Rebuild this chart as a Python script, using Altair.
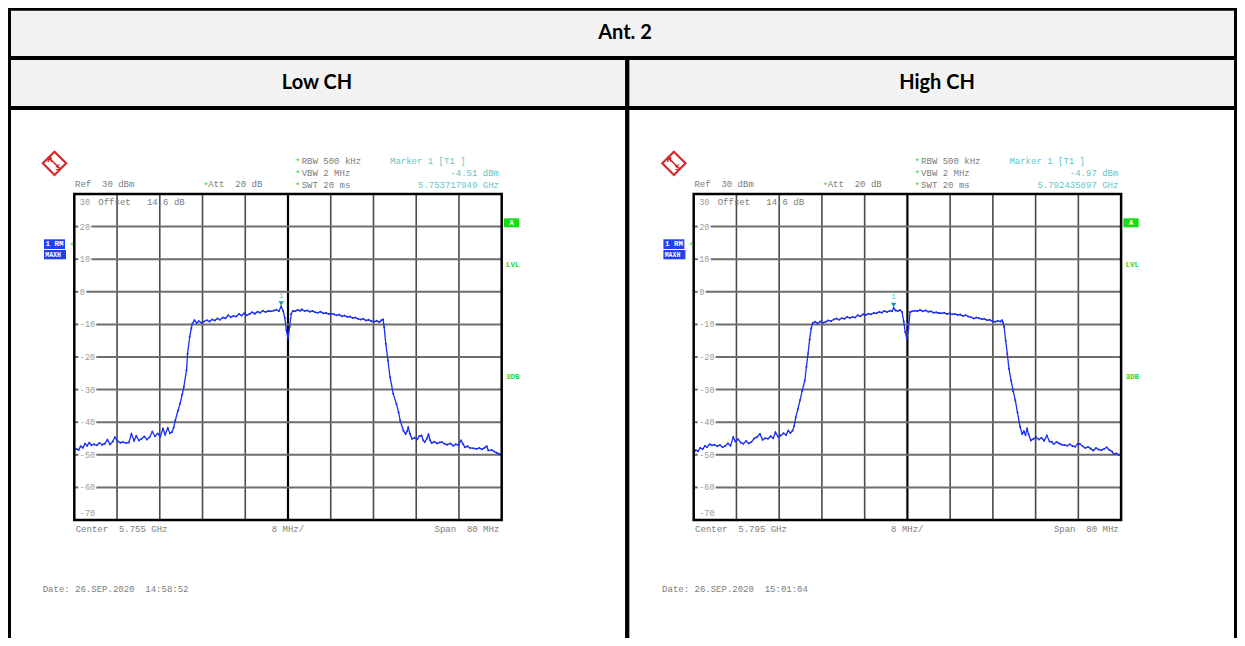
import altair as alt
import pandas as pd

# ---------------- data ----------------
table_title = "Ant. 2"
panel_titles = ["Low CH", "High CH"]
center_mhz = [5755.0, 5795.0]
span_mhz = 80.0
div_mhz = 8.0
ref_level_dbm = 30.0
bottom_level_dbm = -70.0
y_tick_values = [30, 20, 10, 0, -10, -20, -30, -40, -50, -60, -70]
marker_freq_ghz = [5.753717949, 5.792435897]
marker_level_dbm = [-4.51, -4.97]
marker_level_labels = ["-4.51 dBm", "-4.97 dBm"]
marker_freq_labels = ["5.753717949 GHz", "5.792435897 GHz"]
center_labels = ["Center  5.755 GHz", "Center  5.795 GHz"]
date_labels = ["Date: 26.SEP.2020  14:58:52", "Date: 26.SEP.2020  15:01:04"]

low_offset_mhz = [
    -40.0, -39.6, -39.2, -38.8, -38.4, -38.0, -37.6, -37.2, -36.8, -36.3,
    -35.8, -35.3, -34.8, -34.3, -33.8, -33.3, -32.8, -32.4, -31.9, -31.4,
    -30.9, -30.3, -29.8, -29.3, -28.8, -28.4, -27.9, -27.4, -26.9, -26.4,
    -25.9, -25.4, -24.9, -24.4, -23.9, -23.4, -23.0, -22.5, -22.1, -21.7,
    -21.4, -21.1, -20.6, -20.2, -19.8, -19.5, -19.0, -18.8, -18.4, -18.1,
    -17.9, -17.5, -17.1, -16.7, -16.2, -15.7, -15.2, -14.7, -14.2, -13.7,
    -13.2, -12.7, -12.2, -11.7, -11.2, -10.7, -10.2, -9.7, -9.2, -8.7,
    -8.2, -7.7, -7.2, -6.7, -6.2, -5.7, -5.2, -4.7, -4.2, -3.7,
    -3.2, -2.7, -2.2, -1.7, -1.28, -0.9, -0.6, -0.3, 0.0, 0.3,
    0.6, 0.9, 1.3, 1.8, 2.3, 2.6, 3.1, 3.6, 4.1, 4.6,
    5.1, 5.6, 6.1, 6.6, 7.1, 7.6, 8.1, 8.6, 9.1, 9.6,
    10.1, 10.6, 11.1, 11.6, 12.1, 12.6, 13.1, 13.6, 14.1, 14.6,
    15.1, 15.6, 16.1, 16.6, 17.1, 17.5, 17.8, 18.0, 18.3, 18.7,
    19.1, 19.7, 20.3, 20.7, 21.0, 21.6, 22.0, 22.3, 22.5, 22.8,
    23.2, 23.7, 24.2, 24.6, 25.0, 25.3, 25.6, 26.0, 26.3, 26.6,
    26.9, 27.4, 27.9, 28.4, 28.8, 29.3, 29.8, 30.4, 30.9, 31.4,
    31.9, 32.4, 32.8, 33.1, 33.6, 34.1, 34.7, 35.3, 35.8, 36.3,
    36.8, 37.2, 37.5, 38.1, 38.6, 39.1, 39.6, 40.0]
low_level_dbm = [
    -48.8, -48.2, -48.5, -47.4, -47.8, -46.6, -47.2, -46.3, -47.0, -46.8,
    -47.1, -46.4, -46.9, -46.6, -45.4, -46.8, -45.9, -44.6, -45.8, -46.3,
    -46.1, -46.4, -46.2, -43.6, -45.7, -44.2, -45.6, -45.1, -44.4, -45.3,
    -44.6, -42.9, -44.3, -43.5, -44.4, -42.0, -43.8, -41.8, -43.4, -43.0,
    -41.6, -39.5, -36.5, -34.3, -31.5, -29.2, -24.1, -19.0, -13.8, -11.2,
    -9.7, -8.7, -9.6, -9.0, -9.5, -9.1, -8.7, -9.1, -8.5, -8.8,
    -8.2, -8.6, -7.9, -8.1, -7.2, -7.8, -7.4, -7.6, -6.8, -7.3,
    -6.6, -7.2, -6.8, -6.3, -6.7, -6.1, -6.4, -5.8, -6.2, -5.9,
    -6.0, -5.8, -5.5, -5.9, -4.51, -5.9, -8.0, -11.8, -14.3, -10.8,
    -6.8, -5.9, -6.0, -5.6, -5.8, -5.4, -5.9, -5.7, -6.1, -5.9,
    -6.3, -6.4, -6.1, -6.6, -6.5, -6.8, -6.7, -6.9, -7.2, -7.0,
    -7.5, -7.3, -7.7, -7.6, -8.0, -7.9, -8.3, -8.5, -8.3, -8.8,
    -8.6, -9.0, -9.2, -8.9, -9.3, -8.7, -8.5, -10.8, -15.9, -21.0,
    -26.2, -31.3, -34.4, -37.0, -39.5, -42.6, -43.6, -42.8, -41.5, -43.5,
    -45.1, -44.8, -45.2, -44.2, -44.1, -45.5, -46.1, -45.0, -43.8, -45.5,
    -46.4, -46.0, -46.5, -46.2, -46.1, -46.6, -46.9, -46.5, -47.2, -46.8,
    -47.0, -45.6, -46.8, -47.7, -47.4, -47.9, -48.0, -48.2, -47.9, -48.3,
    -47.8, -47.4, -48.7, -48.5, -49.0, -49.4, -49.8, -50.3]

high_offset_mhz = [
    -40.0, -39.6, -39.2, -38.8, -38.3, -37.9, -37.5, -37.0, -36.6, -36.1,
    -35.6, -35.1, -34.6, -34.1, -33.6, -33.1, -32.6, -32.2, -31.7, -31.2,
    -30.7, -30.2, -29.7, -29.2, -28.7, -28.2, -27.6, -27.1, -26.6, -26.1,
    -25.6, -25.1, -24.7, -24.2, -23.7, -23.2, -22.7, -22.3, -21.9, -21.5,
    -21.2, -20.9, -20.5, -20.1, -19.7, -19.2, -18.9, -18.6, -18.3, -18.0,
    -17.7, -17.3, -16.8, -16.3, -15.8, -15.3, -14.8, -14.3, -13.8, -13.3,
    -12.8, -12.3, -11.8, -11.3, -10.8, -10.3, -9.8, -9.3, -8.8, -8.3,
    -7.8, -7.3, -6.8, -6.3, -5.8, -5.3, -4.8, -4.3, -3.8, -3.3,
    -2.9, -2.56, -2.2, -1.8, -1.4, -1.0, -0.7, -0.4, -0.1, 0.2,
    0.5, 0.9, 1.4, 1.9, 2.4, 2.9, 3.4, 3.9, 4.4, 4.9,
    5.4, 5.9, 6.4, 6.9, 7.4, 7.9, 8.4, 8.9, 9.4, 9.9,
    10.4, 10.9, 11.4, 11.9, 12.4, 12.9, 13.4, 13.9, 14.4, 14.9,
    15.4, 15.9, 16.4, 16.9, 17.4, 17.7, 17.9, 18.1, 18.4, 18.7,
    19.0, 19.4, 19.8, 20.2, 20.6, 21.1, 21.5, 21.8, 22.1, 22.4,
    22.7, 23.1, 23.6, 24.1, 24.6, 25.1, 25.6, 26.1, 26.6, 27.0,
    27.4, 27.9, 28.4, 28.9, 29.4, 29.9, 30.4, 30.9, 31.4, 31.9,
    32.3, 32.8, 33.3, 33.8, 34.3, 34.8, 35.3, 35.8, 36.3, 36.8,
    37.3, 37.8, 38.3, 38.6, 39.1, 39.6, 40.0]
high_level_dbm = [
    -49.3, -48.6, -48.9, -47.9, -48.2, -47.3, -47.6, -46.8, -47.1, -46.9,
    -47.4, -47.0, -47.7, -47.3, -46.5, -47.2, -44.6, -45.9, -45.2, -46.2,
    -46.6, -45.8, -46.5, -46.1, -45.0, -44.6, -43.6, -45.4, -44.9, -45.1,
    -44.3, -44.9, -43.1, -44.5, -44.1, -43.4, -43.9, -42.6, -43.3, -42.6,
    -41.2, -38.5, -36.0, -33.3, -30.4, -27.2, -23.0, -19.0, -14.6, -11.2,
    -9.6, -9.2, -9.7, -9.1, -9.5, -9.2, -8.8, -9.0, -8.5, -8.2,
    -8.6, -8.1, -8.3, -7.7, -8.0, -7.7, -7.9, -7.2, -7.5, -6.9,
    -7.1, -6.7, -6.9, -6.5, -6.6, -6.2, -6.4, -5.9, -6.2, -5.8,
    -6.0, -4.97, -5.7, -5.9, -5.6, -6.2, -9.0, -12.4, -14.4, -11.2,
    -6.2, -6.0, -5.8, -5.9, -5.6, -6.0, -5.7, -6.1, -6.0, -6.4,
    -6.3, -6.5, -6.6, -6.4, -6.8, -6.6, -6.9, -6.8, -7.1, -7.0,
    -7.4, -7.2, -7.6, -7.8, -8.2, -7.9, -8.1, -8.4, -8.3, -8.7,
    -8.6, -9.0, -9.2, -8.9, -9.1, -8.7, -9.4, -10.8, -15.0, -19.0,
    -23.5, -27.2, -30.5, -33.3, -37.0, -41.5, -43.6, -42.8, -43.9, -42.0,
    -43.8, -45.6, -45.1, -44.6, -45.3, -44.8, -45.7, -44.1, -45.9, -46.0,
    -46.7, -46.1, -46.5, -46.9, -47.0, -47.2, -46.8, -47.3, -47.5, -46.6,
    -46.7, -47.4, -47.9, -47.6, -48.1, -48.7, -47.9, -48.4, -48.6, -48.2,
    -47.7, -48.5, -49.0, -49.7, -49.6, -50.0, -50.3]

# ---------------- layout / style ----------------
W, H = 1229, 630
PY0, PY1 = 186.0, 512.0
PX0, PX1 = 66.3, 493.7
DX = [0.0, 619.4]
MONO = "Liberation Mono"
HEAD_FONT = "Lato"
GRAY = "#7c7c7c"
TICK = "#9a9a9a"
GRID = "#4a4a4a"
HGRID = "#6e6e6e"
BLUE = "#1b30f2"
BOXBLUE = "#2040f4"
GREEN = "#18dc18"
TEAL_L = "#5fc5c5"
TEAL_D = "#169c9c"
RED = "#d42a2a"
NBSP = "\u00a0"

ONE = pd.DataFrame({"k": [0]})


def txt(s, x, y, color=GRAY, size=9.0, align="left", font=MONO, weight="normal"):
    return alt.Chart(ONE).mark_text(
        text=s.replace(" ", NBSP), align=align, baseline="middle", font=font, fontSize=size,
        fontWeight=weight, color=color,
    ).encode(x=alt.value(x), y=alt.value(y))


def box(x0, x1, y0, y1, fill):
    return alt.Chart(ONE).mark_rect(fill=fill).encode(
        x=alt.value(x0), x2=alt.value(x1), y=alt.value(y0), y2=alt.value(y1))


def frame(x0, x1, y0, y1, sw):
    return alt.Chart(ONE).mark_rect(fillOpacity=0, stroke="black", strokeWidth=sw).encode(
        x=alt.value(x0), x2=alt.value(x1), y=alt.value(y0), y2=alt.value(y1))


def line(x0, x1, y0, y1, sw, color="black"):
    return alt.Chart(ONE).mark_rule(color=color, strokeWidth=sw).encode(
        x=alt.value(x0), x2=alt.value(x1), y=alt.value(y0), y2=alt.value(y1))


def panel(i, offs, levels):
    dx = DX[i]
    x0, x1 = PX0 + dx, PX1 + dx
    c = center_mhz[i]
    xs = alt.Scale(domain=[c - span_mhz / 2, c + span_mhz / 2], range=[x0, x1], nice=False, zero=False)
    ys = alt.Scale(domain=[bottom_level_dbm, ref_level_dbm], range=[PY1, PY0], nice=False, zero=False)

    def X(f):
        return alt.X(f, type="quantitative", scale=xs, axis=None)

    def Y(f):
        return alt.Y(f, type="quantitative", scale=ys, axis=None)

    layers = []
    # vertical grid
    vdf = pd.DataFrame({"f": [c + div_mhz * k for k in range(-4, 5) if k != 0]})
    layers.append(alt.Chart(vdf).mark_rule(color=GRID, strokeWidth=1.6).encode(
        x=X("f"), y=alt.value(PY0), y2=alt.value(PY1)))
    layers.append(alt.Chart(pd.DataFrame({"f": [c]})).mark_rule(color="black", strokeWidth=2.2).encode(
        x=X("f"), y=alt.value(PY0), y2=alt.value(PY1)))
    # horizontal grid (broken where the level labels sit)
    inner = y_tick_values[1:-1]
    layers.append(alt.Chart(pd.DataFrame({"v": inner})).mark_rule(color=HGRID, strokeWidth=2).encode(
        y=Y("v"), x=alt.value(x0), x2=alt.value(x0 + 4)))
    for v in inner:
        lab_end = x0 + 5.5 + 5.0 * len(str(v)) + 1.5
        layers.append(alt.Chart(pd.DataFrame({"v": [v]})).mark_rule(color=HGRID, strokeWidth=2).encode(
            y=Y("v"), x=alt.value(lab_end), x2=alt.value(x1)))
    # level labels
    ldf = pd.DataFrame({"v": inner, "lab": [str(v) for v in inner]})
    layers.append(alt.Chart(ldf).mark_text(align="left", baseline="middle", font=MONO, fontSize=8.5,
                                           color=TICK).encode(y=Y("v"), x=alt.value(x0 + 5.5), text="lab:N"))
    layers.append(alt.Chart(pd.DataFrame({"v": [y_tick_values[0]], "lab": [str(y_tick_values[0])]}))
                  .mark_text(align="left", baseline="middle", font=MONO, fontSize=8.5, color=TICK, dy=7.7)
                  .encode(y=Y("v"), x=alt.value(x0 + 5.5), text="lab:N"))
    layers.append(alt.Chart(pd.DataFrame({"v": [y_tick_values[-1]], "lab": [str(y_tick_values[-1])]}))
                  .mark_text(align="left", baseline="middle", font=MONO, fontSize=8.5, color=TICK, dy=-7.3)
                  .encode(y=Y("v"), x=alt.value(x0 + 5.5), text="lab:N"))
    # trace
    tdf = pd.DataFrame({"f": [c + o for o in offs], "dbm": levels})
    layers.append(alt.Chart(tdf).mark_line(color=BLUE, strokeWidth=1.3).encode(x=X("f"), y=Y("dbm")))
    layers.append(alt.Chart(tdf).mark_point(filled=True, size=4, color=BLUE, opacity=1).encode(
        x=X("f"), y=Y("dbm")))
    # marker
    mdf = pd.DataFrame({"f": [marker_freq_ghz[i] * 1000.0], "dbm": [marker_level_dbm[i]]})
    layers.append(alt.Chart(mdf).mark_point(shape="triangle-down", filled=True, size=30, color=TEAL_D,
                                            opacity=1, yOffset=-3).encode(x=X("f"), y=Y("dbm")))
    layers.append(alt.Chart(mdf).mark_text(text="1", font=MONO, fontSize=8, color=TEAL_L, dy=-10.7,
                                           baseline="middle").encode(x=X("f"), y=Y("dbm")))
    # plot frame
    layers.append(frame(x0, x1, PY0, PY1, 2.5))

    # instrument annotations
    cx, cy = 46.5 + dx, 155.3
    layers.append(alt.Chart(ONE).mark_point(shape="diamond", size=540, filled=False, stroke=RED,
                                            strokeWidth=2.2, opacity=1).encode(x=alt.value(cx), y=alt.value(cy)))
    layers.append(line(cx - 6, cx + 6, cy - 6, cy + 6, 1.6, RED))
    layers.append(txt("R", cx - 4.5, cy - 3.5, RED, 7.5, "center", "DejaVu Sans", "bold"))
    layers.append(txt("S", cx + 3.5, cy + 4.5, RED, 7.5, "center", "DejaVu Sans", "bold"))

    layers.append(txt("Ref  30 dBm", 67 + dx, 176.3))
    layers.append(txt("*", 195.3 + dx, 177.5, GREEN, 9))
    layers.append(txt("Att  20 dB", 200.3 + dx, 176.3))
    for k, s in enumerate(["RBW 500 kHz", "VBW 2 MHz", "SWT 20 ms"]):
        yy = 152.7 + 12 * k
        layers.append(txt("*", 287 + dx, yy + 1.2, GREEN, 9))
        layers.append(txt(s, 293.7 + dx, yy))
    layers.append(txt("Marker 1 [T1 ]", 382 + dx, 152.7, TEAL_L))
    layers.append(txt(marker_level_labels[i], 491 + dx, 164.7, TEAL_L, align="right"))
    layers.append(txt(marker_freq_labels[i], 491 + dx, 176.7, TEAL_L, align="right"))
    layers.append(txt("Offset   14.6 dB", 90.3 + dx, 193.7))

    layers.append(box(496 + dx, 511.3 + dx, 210.3, 219.3, GREEN))
    layers.append(txt("A", 503.7 + dx, 215, "white", 7, "center", MONO, "bold"))
    layers.append(txt("LVL", 498 + dx, 257, GREEN, 7.5, weight="bold"))
    layers.append(txt("3DB", 498 + dx, 369, GREEN, 7.5, weight="bold"))

    layers.append(box(36 + dx, 57 + dx, 231.3, 241, BOXBLUE))
    layers.append(txt("1 RM", 37.5 + dx, 236.3, "white", 7.5, weight="bold"))
    layers.append(txt("*", 61.3 + dx, 237.5, GREEN, 9))
    layers.append(box(36 + dx, 58 + dx, 242, 251.3, BOXBLUE))
    layers.append(txt("MAXH", 37.3 + dx, 246.8, "white", 6.5, weight="bold"))

    layers.append(txt(center_labels[i], 67.7 + dx, 521.3))
    layers.append(txt("8 MHz/", 263.7 + dx, 521.3))
    layers.append(txt("Span  80 MHz", 491.3 + dx, 521.3, align="right"))
    layers.append(txt(date_labels[i], 34.7 + dx, 581))
    return alt.layer(*layers)


# ---------------- table frame ----------------
table = [
    box(0, W, 2.7, 48, "#f2f2f2"),
    box(0, W, 52, 98, "#f2f2f2"),
    line(0, W, 1, 1, 3.5),
    line(0, W, 50, 50, 4),
    line(0, W, 100, 100, 4),
    line(1.5, 1.5, 0, H, 3),
    line(619.2, 619.2, 50, H, 4.3),
    line(W - 1.5, W - 1.5, 0, H, 3),
    txt(table_title, 617, 25.3, "black", 20, "center", HEAD_FONT, "bold"),
    txt(panel_titles[0], 309, 75, "black", 20, "center", HEAD_FONT, "bold"),
    txt(panel_titles[1], 929, 75, "black", 20, "center", HEAD_FONT, "bold"),
]

chart = alt.layer(
    *table,
    panel(0, low_offset_mhz, low_level_dbm),
    panel(1, high_offset_mhz, high_level_dbm),
).resolve_scale(x="independent", y="independent").properties(
    width=W, height=H, padding=0, autosize=alt.AutoSizeParams(type="none")
).configure_view(stroke=None)

chart.save("out.html", embed_options={"renderer": "svg", "actions": False})
